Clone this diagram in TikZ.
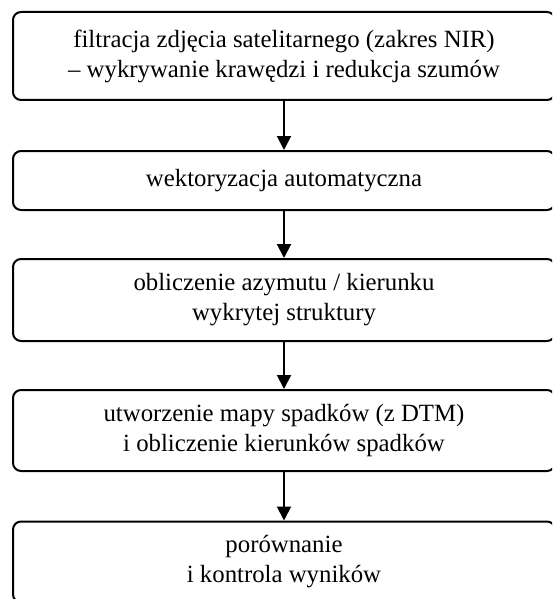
\documentclass[tikz,border=0pt]{standalone}
\usepackage{fontspec}
\setmainfont{Liberation Serif}
\usetikzlibrary{arrows.meta}
\begin{document}
\begin{tikzpicture}[x=0.5pt, y=-0.5pt,
    krok/.style={shape=rectangle, rounded corners=4pt, draw=black, line width=1pt, minimum width=271pt, inner sep=0pt, align=center, font=\fontsize{12.4}{15}\selectfont},
    strzalka/.style={-{Triangle[width=7pt,length=7pt]}, line width=1pt}]
    \clip (0,0) rectangle (552,599);
    \useasboundingbox (0,0) rectangle (552,599);

    \node[krok, minimum height=44pt] (A) at (284,56) {filtracja zdjęcia satelitarnego (zakres NIR)\\– wykrywanie krawędzi i redukcja szumów};
    \node[krok, minimum height=29.5pt] (B) at (284,180.5) {wektoryzacja automatyczna};
    \node[krok, minimum height=41pt] (C) at (284,300) {obliczenie azymutu / kierunku\\wykrytej struktury};
    \node[krok, minimum height=40.5pt] (D) at (284,430.5) {utworzenie mapy spadków (z DTM)\\i obliczenie kierunków spadków};
    \node[krok, minimum height=40.5pt] (E) at (284,562) {porównanie\\i kontrola wyników};

    \path [strzalka] (A) edge (B);
    \path [strzalka] (B) edge (C);
    \path [strzalka] (C) edge (D);
    \path [strzalka] (D) edge (E);
\end{tikzpicture}
\end{document}
